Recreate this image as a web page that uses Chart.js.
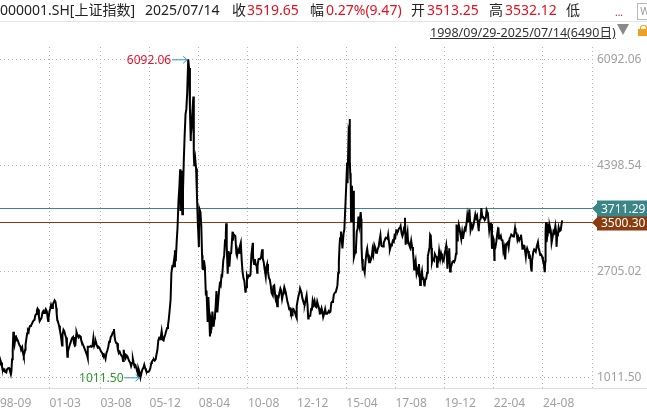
<!DOCTYPE html>
<html><head><meta charset="utf-8">
<script src="https://cdn.jsdelivr.net/npm/chart.js@4/dist/chart.umd.min.js"></script>
<style>
body{margin:0;background:#fff;width:647px;height:408px;overflow:hidden;position:relative;font-family:"Noto Sans","Noto Sans CJK SC",sans-serif}
#c{position:absolute;left:0;top:0}
.t{position:absolute;white-space:nowrap;font-size:14px;color:#222;line-height:20px;top:0}
.r{color:#e3101e}
#sep{position:absolute;left:0;top:21px;width:647px;height:1px;background:#e4e4e4}
#range{position:absolute;left:430px;top:25px;font-size:12.5px;line-height:16px;color:#333;text-decoration:underline;white-space:nowrap}
#tri{position:absolute;left:617px;top:24px;width:0;height:0;border-left:6.5px solid transparent;border-right:6.5px solid transparent;border-top:11px solid #8a8a8a}
#lock{position:absolute;left:638px;top:29px;width:9px;height:7px;background:#f0a020}
#lockt{position:absolute;left:640px;top:25px;width:5px;height:5px;border:1.5px solid #f0a020;border-bottom:none;border-radius:3px 3px 0 0}
#wic{position:absolute;left:637px;top:3px;width:14px;height:15px;border:1px solid #b8b8b8;font-size:10px;line-height:15px;color:#999;text-align:center}
</style></head><body>
<canvas id="c" width="647" height="408"></canvas>
<div class="t" style="left:0">000001.SH[上证指数]</div>
<div class="t" style="left:145px">2025/07/14</div>
<div class="t" style="left:232px">收</div>
<div class="t r" style="left:247px">3519.65</div>
<div class="t" style="left:310px">幅</div>
<div class="t r" style="left:326px">0.27%(9.47)</div>
<div class="t" style="left:411px">开</div>
<div class="t r" style="left:427px">3513.25</div>
<div class="t" style="left:489px">高</div>
<div class="t r" style="left:505px">3532.12</div>
<div class="t" style="left:566px">低</div>
<div class="t r" style="left:615px;font-size:10px;top:2px">...</div>
<div id="wic">W</div>
<div id="sep"></div>
<div id="range">1998/09/29-2025/07/14(6490日)</div>
<div id="tri"></div>
<div id="lockt"></div><div id="lock"></div>
<script>
const dates = [
"1998-09-29","1998-10-15","1998-10-30","1998-11-16","1998-11-30","1998-12-15","1998-12-31",
"1999-01-15","1999-01-29","1999-02-09","1999-02-26","1999-03-12","1999-03-31","1999-04-15","1999-04-30","1999-05-17","1999-05-25","1999-06-07","1999-06-18","1999-06-29","1999-07-09","1999-07-20","1999-07-30","1999-08-10","1999-08-24","1999-08-31","1999-09-14","1999-09-30","1999-10-15","1999-10-29","1999-11-12","1999-11-30","1999-12-14","1999-12-27","1999-12-30",
"2000-01-10","2000-01-20","2000-01-28","2000-02-14","2000-02-25","2000-03-08","2000-03-21","2000-03-31","2000-04-14","2000-04-28","2000-05-12","2000-05-31","2000-06-15","2000-06-30","2000-07-14","2000-07-31","2000-08-11","2000-08-22","2000-08-31","2000-09-15","2000-09-28","2000-10-17","2000-10-31","2000-11-15","2000-11-30","2000-12-15","2000-12-29",
"2001-01-12","2001-01-31","2001-02-15","2001-02-22","2001-02-28","2001-03-15","2001-03-30","2001-04-13","2001-04-30","2001-05-15","2001-05-31","2001-06-13","2001-06-29","2001-07-12","2001-07-20","2001-07-31","2001-08-10","2001-08-31","2001-09-14","2001-09-28","2001-10-22","2001-10-29","2001-11-15","2001-11-30","2001-12-14","2001-12-31",
"2002-01-14","2002-01-22","2002-01-31","2002-02-08","2002-02-28","2002-03-15","2002-03-29","2002-04-12","2002-04-30","2002-05-15","2002-05-31","2002-06-07","2002-06-24","2002-06-28","2002-07-12","2002-07-31","2002-08-15","2002-08-30","2002-09-13","2002-09-27","2002-10-15","2002-10-31","2002-11-15","2002-11-29","2002-12-13","2002-12-31",
"2003-01-06","2003-01-14","2003-01-29","2003-02-14","2003-02-28","2003-03-14","2003-03-31","2003-04-16","2003-04-30","2003-05-15","2003-05-30","2003-06-13","2003-06-30","2003-07-15","2003-07-31","2003-08-15","2003-08-29","2003-09-15","2003-09-30","2003-10-15","2003-10-31","2003-11-13","2003-11-28","2003-12-15","2003-12-31",
"2004-01-15","2004-01-30","2004-02-13","2004-02-27","2004-03-15","2004-03-31","2004-04-07","2004-04-20","2004-04-30","2004-05-14","2004-05-31","2004-06-15","2004-06-30","2004-07-15","2004-07-30","2004-08-13","2004-08-31","2004-09-13","2004-09-24","2004-09-30","2004-10-15","2004-10-29","2004-11-15","2004-11-30","2004-12-15","2004-12-31",
"2005-01-14","2005-01-31","2005-02-15","2005-02-28","2005-03-15","2005-03-31","2005-04-15","2005-04-29","2005-05-16","2005-05-31","2005-06-03","2005-06-08","2005-06-30","2005-07-11","2005-07-29","2005-08-15","2005-08-31","2005-09-15","2005-09-30","2005-10-14","2005-10-28","2005-11-15","2005-11-30","2005-12-15","2005-12-30",
"2006-01-16","2006-01-25","2006-02-15","2006-02-28","2006-03-15","2006-03-31","2006-04-14","2006-04-28","2006-05-15","2006-05-31","2006-06-15","2006-06-30","2006-07-12","2006-07-31","2006-08-15","2006-08-31","2006-09-15","2006-09-29","2006-10-16","2006-10-31","2006-11-15","2006-11-30","2006-12-15","2006-12-29",
"2007-01-15","2007-01-31","2007-02-15","2007-02-26","2007-02-27","2007-02-28","2007-03-15","2007-03-30","2007-04-13","2007-04-30","2007-05-15","2007-05-29","2007-06-04","2007-06-15","2007-06-20","2007-06-29","2007-07-05","2007-07-17","2007-07-31","2007-08-15","2007-08-31","2007-09-14","2007-09-28","2007-10-16","2007-10-31","2007-11-15","2007-11-28","2007-11-30","2007-12-14","2007-12-28",
"2008-01-14","2008-01-22","2008-01-31","2008-02-15","2008-02-29","2008-03-14","2008-03-31","2008-04-18","2008-04-24","2008-04-30","2008-05-15","2008-05-30","2008-06-12","2008-06-20","2008-06-30","2008-07-15","2008-07-31","2008-08-18","2008-08-29","2008-09-18","2008-09-24","2008-09-30","2008-10-15","2008-10-28","2008-10-31","2008-11-14","2008-11-28","2008-12-09","2008-12-31",
"2009-01-14","2009-01-23","2009-02-06","2009-02-17","2009-02-27","2009-03-03","2009-03-31","2009-04-15","2009-04-30","2009-05-15","2009-05-27","2009-06-15","2009-06-30","2009-07-15","2009-07-29","2009-08-04","2009-08-14","2009-08-31","2009-09-15","2009-09-29","2009-10-15","2009-10-30","2009-11-23","2009-11-30","2009-12-07","2009-12-31",
"2010-01-11","2010-01-29","2010-02-09","2010-02-26","2010-03-15","2010-03-31","2010-04-14","2010-04-30","2010-05-14","2010-05-31","2010-06-15","2010-06-30","2010-07-05","2010-07-15","2010-07-30","2010-08-13","2010-08-31","2010-09-15","2010-09-30","2010-10-15","2010-11-08","2010-11-12","2010-11-17","2010-11-30","2010-12-15","2010-12-31",
"2011-01-14","2011-01-25","2011-01-31","2011-02-15","2011-02-28","2011-03-15","2011-03-31","2011-04-18","2011-04-29","2011-05-16","2011-05-31","2011-06-20","2011-06-30","2011-07-15","2011-07-29","2011-08-15","2011-08-31","2011-09-15","2011-09-30","2011-10-21","2011-10-31","2011-11-15","2011-11-30","2011-12-15","2011-12-30",
"2012-01-06","2012-01-17","2012-01-31","2012-02-15","2012-02-29","2012-03-14","2012-03-30","2012-04-16","2012-04-27","2012-05-07","2012-05-31","2012-06-15","2012-06-29","2012-07-13","2012-07-31","2012-08-15","2012-08-31","2012-09-14","2012-09-26","2012-09-28","2012-10-15","2012-10-31","2012-11-15","2012-11-30","2012-12-04","2012-12-14","2012-12-31",
"2013-01-15","2013-01-31","2013-02-06","2013-02-28","2013-03-15","2013-03-29","2013-04-15","2013-04-26","2013-05-15","2013-05-29","2013-06-14","2013-06-25","2013-06-28","2013-07-09","2013-07-31","2013-08-15","2013-08-30","2013-09-12","2013-09-30","2013-10-15","2013-10-31","2013-11-15","2013-11-29","2013-12-16","2013-12-31",
"2014-01-15","2014-01-30","2014-02-14","2014-02-28","2014-03-12","2014-03-31","2014-04-15","2014-04-30","2014-05-15","2014-05-30","2014-06-16","2014-06-30","2014-07-15","2014-07-31","2014-08-15","2014-08-29","2014-09-12","2014-09-30","2014-10-15","2014-10-31","2014-11-14","2014-11-28","2014-12-09","2014-12-22","2014-12-31",
"2015-01-15","2015-01-30","2015-02-09","2015-02-27","2015-03-13","2015-03-31","2015-04-15","2015-04-30","2015-05-07","2015-05-27","2015-06-03","2015-06-12","2015-06-19","2015-06-26","2015-06-30","2015-07-08","2015-07-24","2015-07-27","2015-08-17","2015-08-26","2015-09-15","2015-09-30","2015-10-15","2015-10-30","2015-11-13","2015-11-30","2015-12-22","2015-12-31",
"2016-01-04","2016-01-07","2016-01-15","2016-01-27","2016-01-29","2016-02-15","2016-02-29","2016-03-15","2016-03-31","2016-04-13","2016-04-29","2016-05-16","2016-05-31","2016-06-15","2016-06-30","2016-07-15","2016-07-29","2016-08-15","2016-08-31","2016-09-15","2016-09-30","2016-10-14","2016-10-31","2016-11-15","2016-11-29","2016-12-15","2016-12-30",
"2017-01-16","2017-01-26","2017-02-15","2017-02-28","2017-03-14","2017-03-31","2017-04-11","2017-04-28","2017-05-11","2017-05-31","2017-06-15","2017-06-30","2017-07-17","2017-07-31","2017-08-15","2017-08-31","2017-09-15","2017-09-29","2017-10-16","2017-10-31","2017-11-14","2017-11-30","2017-12-15","2017-12-29",
"2018-01-15","2018-01-29","2018-02-09","2018-02-28","2018-03-12","2018-03-23","2018-03-30","2018-04-16","2018-04-27","2018-05-15","2018-05-31","2018-06-15","2018-06-29","2018-07-05","2018-07-20","2018-07-31","2018-08-17","2018-08-31","2018-09-14","2018-09-28","2018-10-18","2018-10-31","2018-11-19","2018-11-30","2018-12-14","2018-12-28",
"2019-01-03","2019-01-15","2019-01-31","2019-02-15","2019-02-25","2019-02-28","2019-03-15","2019-03-29","2019-04-08","2019-04-19","2019-04-30","2019-05-09","2019-05-17","2019-05-31","2019-06-14","2019-06-28","2019-07-15","2019-07-31","2019-08-06","2019-08-15","2019-08-30","2019-09-12","2019-09-30","2019-10-15","2019-10-31","2019-11-15","2019-11-29","2019-12-16","2019-12-31",
"2020-01-13","2020-01-23","2020-02-03","2020-02-14","2020-02-24","2020-02-28","2020-03-05","2020-03-19","2020-03-31","2020-04-15","2020-04-30","2020-05-15","2020-05-29","2020-06-15","2020-06-30","2020-07-09","2020-07-24","2020-07-31","2020-08-18","2020-08-31","2020-09-15","2020-09-30","2020-10-15","2020-10-30","2020-11-13","2020-11-30","2020-12-15","2020-12-31",
"2021-01-13","2021-01-28","2021-02-10","2021-02-18","2021-03-09","2021-03-31","2021-04-15","2021-04-30","2021-05-31","2021-06-15","2021-06-30","2021-07-28","2021-07-30","2021-08-13","2021-08-31","2021-09-13","2021-09-30","2021-10-15","2021-10-29","2021-11-15","2021-11-30","2021-12-13","2021-12-31",
"2022-01-04","2022-01-28","2022-02-11","2022-02-28","2022-03-15","2022-03-24","2022-03-31","2022-04-15","2022-04-26","2022-04-29","2022-05-13","2022-05-31","2022-06-15","2022-06-30","2022-07-05","2022-07-15","2022-07-29","2022-08-15","2022-08-31","2022-09-15","2022-09-30","2022-10-17","2022-10-31","2022-11-15","2022-11-30","2022-12-15","2022-12-30",
"2023-01-16","2023-01-31","2023-02-14","2023-02-28","2023-03-15","2023-03-31","2023-04-18","2023-04-28","2023-05-15","2023-05-31","2023-06-15","2023-06-30","2023-07-14","2023-07-31","2023-08-15","2023-08-25","2023-08-31","2023-09-15","2023-09-28","2023-10-23","2023-10-31","2023-11-15","2023-11-30","2023-12-15","2023-12-21","2023-12-29",
"2024-01-12","2024-01-22","2024-01-31","2024-02-05","2024-02-08","2024-02-29","2024-03-15","2024-03-29","2024-04-12","2024-04-30","2024-05-20","2024-05-31","2024-06-14","2024-06-28","2024-07-15","2024-07-31","2024-08-15","2024-08-30","2024-09-13","2024-09-18","2024-09-24","2024-09-30","2024-10-08","2024-10-17","2024-10-31","2024-11-07","2024-11-18","2024-11-29","2024-12-11","2024-12-31",
"2025-01-13","2025-01-31","2025-02-14","2025-02-28","2025-03-18","2025-03-31","2025-04-07","2025-04-18","2025-04-30","2025-05-14","2025-05-30","2025-06-19","2025-06-30","2025-07-14"
];
const closes = [
1240,1200,1217,1290,1247,1180,1147,
1120,1134,1100,1090,1140,1158,1160,1120,1060,1100,1300,1450,1739,1620,1540,1601,1680,1610,1627,1600,1556,1520,1508,1450,1489,1400,1341,1367,
1400,1450,1535,1650,1715,1760,1740,1800,1830,1836,1860,1894,1920,1928,2000,2023,2080,2110,2096,1980,1910,1940,1961,2040,2070,2040,2073,
2100,2065,1950,1910,1959,2060,2112,2170,2119,2180,2214,2242,2218,2120,2020,1920,1900,1834,1760,1690,1520,1689,1770,1747,1690,1646,
1490,1339,1420,1450,1524,1560,1603,1640,1657,1560,1515,1520,1700,1732,1690,1652,1680,1669,1620,1581,1540,1507,1470,1436,1400,1357,
1320,1500,1499,1500,1511,1500,1510,1640,1521,1560,1576,1530,1487,1500,1476,1450,1421,1400,1367,1380,1348,1307,1397,1440,1497,
1580,1590,1660,1675,1720,1742,1783,1650,1595,1560,1555,1450,1399,1420,1386,1360,1342,1270,1450,1396,1370,1320,1360,1340,1300,1266,
1250,1191,1240,1306,1240,1181,1200,1159,1100,1060,1013.6,1150,1080,1011.5,1083,1140,1162,1210,1155,1120,1092,1100,1099,1120,1161,
1240,1258,1290,1299,1280,1298,1380,1440,1600,1641,1620,1672,1750,1612,1600,1658,1700,1752,1800,1837,1950,2099,2250,2675,
2790,2786,2900,3040,2771,2881,2900,3183,3400,3841,4050,4334,3670,4150,4311,3820,3615,4000,4471,4870,5218,5300,5552,6092.06,5954,5300,4803,4871,5000,5262,
5497,4559,4383,4500,4348,3960,3473,3094,3583,3693,3650,3433,2960,2748,2736,2880,2775,2319,2397,1895,2237,2293,2000,1664,1729,1930,1871,2060,1821,
1950,1990,2180,2390,2082,2050,2373,2500,2477,2640,2633,2880,2959,3200,3300,3471,3110,2668,3030,2779,2990,2996,3338,3195,3300,3277,
3270,2989,2950,3051,3000,3110,3160,2871,2700,2592,2550,2398,2363,2450,2638,2600,2639,2630,2656,2970,3159,3000,2894,2820,2900,2808,
2790,2680,2791,2900,2905,2900,2928,3057,2911,2850,2743,2620,2762,2820,2701,2600,2568,2480,2359,2320,2468,2480,2333,2230,2199,
2148,2300,2292,2370,2428,2390,2263,2350,2396,2450,2373,2300,2225,2180,2103,2110,2047,2080,2004,2086,2100,2069,2030,1980,1959,2150,2269,
2330,2385,2430,2365,2280,2237,2180,2177,2260,2320,2160,1950,1979,1990,1994,2100,2098,2240,2175,2230,2142,2130,2220,2160,2116,
2030,2033,2110,2056,1975,2033,2100,2026,2030,2039,2070,2048,2060,2201,2220,2217,2330,2364,2370,2420,2480,2683,2856,3128,3235,
3340,3210,3070,3310,3370,3748,4080,4441,4112,4941,4910,5140,4478,4192,4277,3507,4070,3725,3990,2927,3005,3053,3340,3383,3580,3445,3651,3539,
3296,3125,2900,2750,2738,2750,2688,2860,3004,3066,2938,2850,2917,2887,2930,3054,2979,3125,3085,3002,3005,3064,3100,3206,3282,3117,3104,
3100,3159,3212,3242,3240,3223,3289,3155,3052,3117,3130,3192,3176,3273,3250,3361,3353,3349,3390,3393,3430,3317,3266,3307,
3410,3560,3130,3259,3326,3152,3169,3110,3082,3192,3095,3022,2847,2733,2829,2876,2669,2725,2682,2821,2486,2603,2703,2588,2594,2494,
2464,2570,2585,2682,2961,2941,3021,3091,3289,3270,3078,2850,2882,2899,2882,2979,2942,2933,2777,2815,2886,3031,2905,2991,2929,2891,2872,2985,3050,
3115,2976,2746,2917,3031,2880,3071,2702,2750,2811,2860,2868,2852,2890,2985,3451,3197,3310,3451,3396,3295,3218,3332,3225,3310,3392,3367,3473,
3598,3505,3603,3696,3360,3442,3398,3447,3615,3556,3591,3362,3397,3517,3544,3715,3568,3572,3547,3533,3564,3681,3640,
3632,3361,3462,3462,3064,3250,3253,3211,2886,3047,3084,3187,3305,3399,3405,3228,3253,3276,3202,3199,3024,3084,2893,3135,3151,3168,3089,
3228,3256,3293,3280,3263,3273,3394,3323,3311,3205,3252,3202,3237,3291,3176,3064,3120,3117,3110,2939,3018,3072,3030,2942,2918,2975,
2882,2756,2789,2702,2866,3015,3055,3041,3019,3105,3171,3087,3033,2967,2974,2939,2878,2842,2704,2717,2863,3336,3489,3169,3280,3470,3324,3326,3432,3352,
3160,3250,3346,3321,3430,3336,3096,3277,3279,3404,3347,3363,3444,3519.65
];
const xTickLabels = ["98-09","01-03","03-08","05-12","08-04","10-08","12-12","15-04","17-08","19-12","22-04","24-08"];
const yTicks = [1011.50, 2705.02, 4398.54, 6092.06];
const refValues = [3500.30, 3711.29];
const refColors = ["#8b3c0e", "#3a8587"];

function monthIndex(s){
  const [Y,M,D] = s.split('-').map(Number);
  const dim = new Date(Y, M, 0).getDate();
  return (Y-1998)*12 + (M-9) + (D-1)/dim;
}
const X_MIN = 2.32, X_MAX = 339.4;
const tickVals = xTickLabels.map(l => {
  const [yy, mm] = l.split('-');
  const Y = (+yy >= 90 ? '19' : '20') + yy;
  return Math.max(X_MIN, monthIndex(Y + '-' + mm + '-16'));
});
const points = dates.map((d,i) => ({x: monthIndex(d), y: closes[i]}));

const GRID = '#b4b4b4';
const LABEL = '#a0a0a0';
const FONT = '"Noto Sans", "Noto Sans CJK SC", sans-serif';

function pointer(ctx, x, y, text, color){
  ctx.save();
  ctx.strokeStyle = '#2f96c8'; ctx.lineWidth = 1;
  ctx.beginPath(); ctx.moveTo(x-16, y+0.5); ctx.lineTo(x-1, y+0.5); ctx.stroke();
  ctx.beginPath(); ctx.moveTo(x-5, y-3); ctx.lineTo(x-1, y+0.5); ctx.lineTo(x-5, y+4); ctx.stroke();
  ctx.fillStyle = color; ctx.font = '12px ' + FONT; ctx.textAlign = 'right'; ctx.textBaseline = 'middle';
  ctx.fillText(text, x-17, y+1);
  ctx.restore();
}
function tag(ctx, x0, y, color, text){
  ctx.save();
  ctx.fillStyle = color;
  ctx.beginPath();
  ctx.moveTo(x0, y); ctx.lineTo(x0+5, y-5); ctx.lineTo(x0+5, y-8); ctx.lineTo(647, y-8);
  ctx.lineTo(647, y+8); ctx.lineTo(x0+5, y+8); ctx.lineTo(x0+5, y+5); ctx.closePath(); ctx.fill();
  ctx.fillStyle = '#fff'; ctx.font = '12px ' + FONT; ctx.textAlign = 'left'; ctx.textBaseline = 'middle';
  ctx.fillText(text, x0+9, y+1);
  ctx.restore();
}

const deco = {
  id: 'deco',
  beforeDatasetsDraw(chart){
    const {ctx, chartArea: a, scales: {y}} = chart;
    refValues.forEach((v,i) => {
      const py = Math.round(y.getPixelForValue(v)) + 0.5;
      ctx.save(); ctx.strokeStyle = refColors[i]; ctx.lineWidth = 1;
      ctx.beginPath(); ctx.moveTo(a.left, py); ctx.lineTo(a.right, py); ctx.stroke(); ctx.restore();
    });
  },
  afterDatasetsDraw(chart){
    const {ctx, scales: {x, y}} = chart;
    let imax = 0, imin = 0;
    points.forEach((p,i) => { if (p.y > points[imax].y) imax = i; if (p.y < points[imin].y) imin = i; });
    const pm = points[imax], pn = points[imin];
    pointer(ctx, x.getPixelForValue(pm.x), y.getPixelForValue(pm.y), pm.y.toFixed(2), '#e8112d');
    pointer(ctx, x.getPixelForValue(pn.x), y.getPixelForValue(pn.y), pn.y.toFixed(2), '#2a9a2a');
  },
  afterDraw(chart){
    const {ctx, chartArea: a, scales: {y}} = chart;
    ctx.save();
    ctx.strokeStyle = GRID; ctx.lineWidth = 1; ctx.setLineDash([1,3]);
    ctx.beginPath(); ctx.moveTo(a.right + 0.5, a.top); ctx.lineTo(a.right + 0.5, a.bottom); ctx.stroke();
    ctx.setLineDash([]);
    ctx.strokeStyle = '#dedede';
    ctx.beginPath(); ctx.moveTo(0, a.bottom + 0.5); ctx.lineTo(647, a.bottom + 0.5); ctx.stroke();
    ctx.restore();
    const texts = refValues.map(v => v.toFixed(2));
    tag(ctx, a.right, Math.round(y.getPixelForValue(refValues[0])) + 0.5, refColors[0], texts[0]);
    tag(ctx, a.right, Math.round(y.getPixelForValue(refValues[1])) + 0.5, refColors[1], texts[1]);
  }
};

new Chart(document.getElementById('c'), {
  type: 'line',
  data: { datasets: [{ data: points, borderColor: '#000', borderWidth: 2, pointRadius: 0, tension: 0, fill: false }] },
  options: {
    responsive: false, animation: false, devicePixelRatio: 1, parsing: false,
    layout: { padding: { left: 0, right: 0, top: 47, bottom: 0 } },
    plugins: { legend: { display: false }, tooltip: { enabled: false } },
    scales: {
      x: {
        type: 'linear', min: X_MIN, max: X_MAX,
        afterBuildTicks: s => { s.ticks = tickVals.map(v => ({value: v})); },
        afterFit: s => { s.height = 20; s.paddingLeft = 0; s.paddingRight = 0; },
        ticks: { align: 'start', maxRotation: 0, autoSkip: false, padding: 8, color: LABEL,
                 font: { size: 12, family: FONT }, callback: (v, i) => xTickLabels[i] },
        grid: { color: c => c.index === 0 ? 'rgba(0,0,0,0)' : GRID, drawTicks: false, lineWidth: 1 },
        border: { display: false, dash: [1,3] }
      },
      y: {
        type: 'linear', position: 'right', min: 840.6, max: 6288.6,
        afterBuildTicks: s => { s.ticks = yTicks.map(v => ({value: v})); },
        afterFit: s => { s.width = 55; s.paddingTop = 0; s.paddingBottom = 0; },
        ticks: { padding: 5, color: LABEL, font: { size: 12, family: FONT }, callback: v => v.toFixed(2) },
        grid: { color: GRID, drawTicks: false, lineWidth: 1 },
        border: { display: false, dash: [1,3] }
      }
    }
  },
  plugins: [deco]
});
</script>
</body></html>
